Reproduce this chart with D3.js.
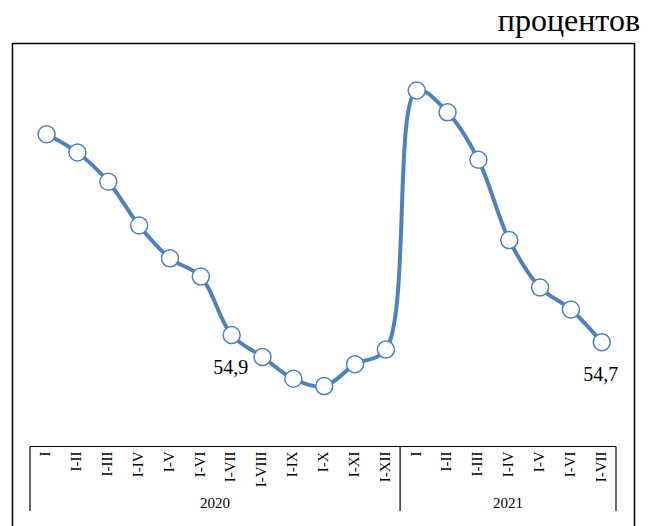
<!DOCTYPE html>
<html><head><meta charset="utf-8">
<script src="https://cdn.jsdelivr.net/npm/d3@7"></script>
<style>body{margin:0;background:#fff}svg{display:block}text{font-family:"Liberation Serif","Times New Roman",serif}</style>
</head><body>
<script>
const categories = ["I","I-II","I-III","I-IV","I-V","I-VI","I-VII","I-VIII","I-IX","I-X","I-XI","I-XII",
                    "I","I-II","I-III","I-IV","I-V","I-VI","I-VII"];
const years = ["2020","2021"];
const yearCounts = [12,7];
const values = [60.4,59.9,59.1,57.9,57.0,56.5,54.9,54.3,53.7,53.5,54.1,54.5,
                61.6,61.0,59.7,57.5,56.2,55.6,54.7];
const labels = [{i:6,text:"54,9"},{i:18,text:"54,7"}];
const unitText = "процентов";

const W=649,H=526;
const svg=d3.select("body").append("svg").attr("width",W).attr("height",H);

const x=d3.scaleBand().domain(d3.range(categories.length)).range([30,616]);
const y=d3.scaleLinear().domain([52,63]).range([440.85,39.35]);
const px=i=>x(i)+x.bandwidth()/2+1.2;

svg.append("rect").attr("x",12.5).attr("y",43.5).attr("width",622).attr("height",500)
  .attr("fill","none").attr("stroke","#000").attr("stroke-width",1.5);

svg.append("text").attr("x",640).attr("y",31).attr("text-anchor","end")
  .attr("font-size",32).attr("fill","#000").text(unitText);

const axisY=446.5;
const axisBottom=511;
svg.append("line").attr("x1",x.range()[0]).attr("x2",x.range()[1]).attr("y1",axisY).attr("y2",axisY)
  .attr("stroke","#000").attr("stroke-width",1.2);
let cum=0;
const seps=[0];
yearCounts.forEach(c=>{cum+=c;seps.push(cum);});
seps.forEach(s=>{
  const xx = s<categories.length ? x(s) : x.range()[1];
  svg.append("line").attr("x1",xx).attr("x2",xx).attr("y1",axisY).attr("y2",axisBottom)
    .attr("stroke","#000").attr("stroke-width",1.2);
});
years.forEach((yr,k)=>{
  const a=x(seps[k]); const b= seps[k+1]<categories.length ? x(seps[k+1]) : x.range()[1];
  svg.append("text").attr("x",(a+b)/2).attr("y",507.5).attr("text-anchor","middle")
    .attr("font-size",15).attr("fill","#000").text(yr);
});
categories.forEach((c,i)=>{
  const cx=x(i)+x.bandwidth()/2;
  svg.append("text").attr("transform",`translate(${cx+5},${axisY+5}) rotate(-90)`)
    .attr("text-anchor","end").attr("font-size",15).attr("fill","#000").text(c);
});

const line=d3.line().x((d,i)=>px(i)).y(d=>y(d)).curve(d3.curveCatmullRom.alpha(0.5));
svg.append("path").datum(values).attr("d",line).attr("fill","none")
  .attr("stroke","#4f81bd").attr("stroke-width",4).attr("stroke-linejoin","round");

svg.selectAll("circle.m").data(values).enter().append("circle")
  .attr("cx",(d,i)=>px(i)).attr("cy",d=>y(d)).attr("r",8.5)
  .attr("fill","#fff").attr("stroke","#4f81bd").attr("stroke-width",1.5);

labels.forEach(l=>{
  svg.append("text").attr("x",px(l.i)-1).attr("y",y(values[l.i])+38.5)
    .attr("text-anchor","middle").attr("font-size",20).attr("fill","#000").text(l.text);
});
</script>
</body></html>
